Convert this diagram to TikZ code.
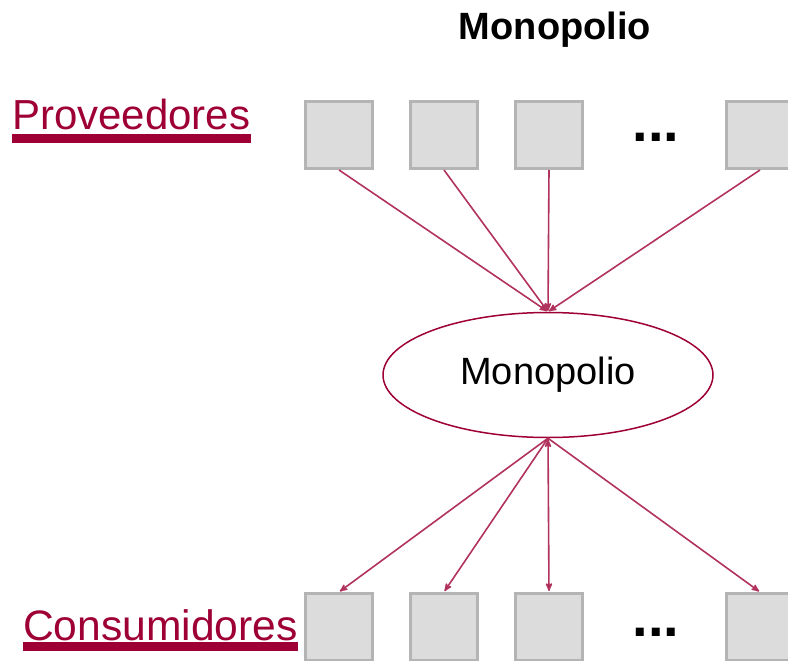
\documentclass[tikz,border=0pt]{standalone}
\usepackage{fontspec}
\setmainfont{Liberation Sans}
\usetikzlibrary{arrows,positioning,shapes.geometric}
\definecolor{vino}{HTML}{9E0035}
\definecolor{cajagris}{HTML}{DCDCDC}
\definecolor{bordegris}{HTML}{B4B4B4}

\begin{document}
\begin{tikzpicture}[x=1pt,y=-1pt,>=stealth',node distance=35pt,
  caja/.style={rectangle,fill=cajagris,draw=bordegris,line width=3pt,
  minimum size=67pt,inner sep=0pt},
  rotulo/.style={text=vino,inner sep=0pt,anchor=base west},
  puntos/.style={font=\bfseries\fontsize{56}{64}\selectfont,inner sep=0pt,anchor=base},
  flecha/.style={->,draw=vino!80,line width=1.6pt,shorten >=1pt}]

  \useasboundingbox (0,0) rectangle (788,661);

  \node[font=\bfseries\fontsize{38}{44}\selectfont,anchor=base,inner sep=0pt]
    (titulo) at (555,40) {Monopolio};

  % proveedores (arriba)
  \node[caja] (p1) at (339,135) {};
  \node[caja] (p2) [right=of p1] {};
  \node[caja] (p3) [right=of p2] {};
  \node[caja] (p4) [right=141pt of p3] {};
  \node[puntos] (pdots) at (656,141) {...};

  \node[ellipse,draw=vino,line width=1.5pt,minimum width=330pt,
    minimum height=125pt,inner sep=0pt,font=\fontsize{38}{44}\selectfont]
    (mono) at (548,375) {Monopolio};

  % consumidores (abajo)
  \node[caja] (c1) [below=422pt of p1] {};
  \node[caja] (c2) [right=of c1] {};
  \node[caja] (c3) [right=of c2] {};
  \node[caja] (c4) [right=141pt of c3] {};
  \node[puntos] (cdots) at (656,636) {...};

  \node[rotulo,font=\fontsize{42}{48}\selectfont] (prov) at (12,129) {Proveedores};
  \draw[vino,line width=9pt] ([yshift=-9pt]prov.base west) -- ([yshift=-9pt]prov.base east);
  \node[rotulo,font=\fontsize{42.6}{50}\selectfont] (cons) at (23,640) {Consumidores};
  \draw[vino,line width=9pt] ([yshift=-6.5pt]cons.base west) -- ([yshift=-6.5pt]cons.base east);

  \path[flecha]
    (p1.south) edge (mono.north)
    (p2.south) edge (mono.north)
    (p3.south) edge (mono.north)
    (p4.south) edge (mono.north)
    (mono.south) edge (c1.north)
    (mono.south) edge (c2.north)
    (mono.south) edge (c3.north)
    (mono.south) edge (c4.north)
    ;
\end{tikzpicture}
\end{document}
